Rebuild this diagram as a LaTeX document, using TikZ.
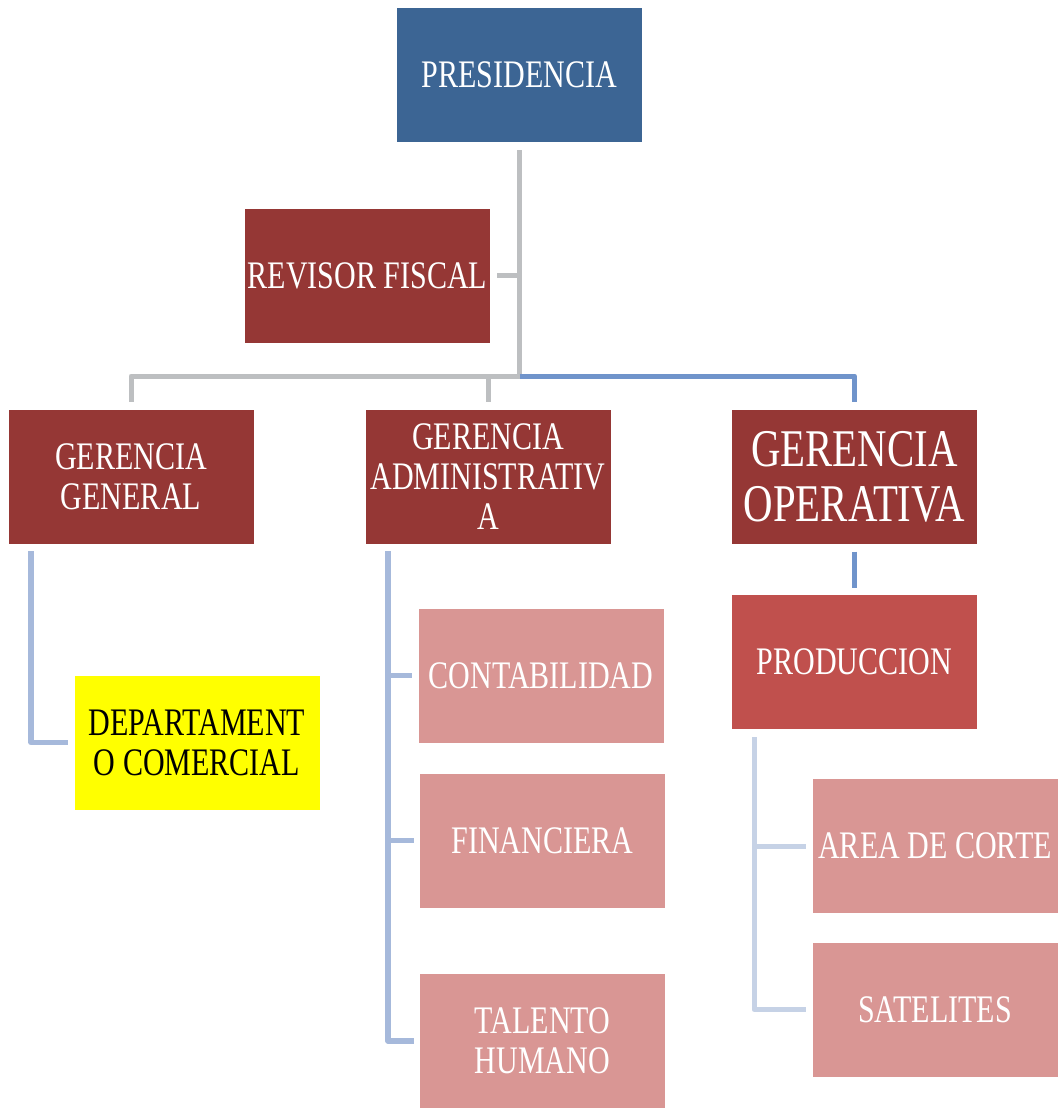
\documentclass[tikz,border=0pt]{standalone}
\usepackage{fontspec}
\setmainfont[FakeStretch=0.77]{Liberation Serif}
\definecolor{presblue}{HTML}{3C6594}
\definecolor{darkred}{HTML}{953735}
\definecolor{midred}{HTML}{C0504D}
\definecolor{lightred}{HTML}{D99694}
\definecolor{yel}{HTML}{FFFF00}
\definecolor{lgray}{HTML}{BDBFC1}
\definecolor{lblue}{HTML}{7094CB}
\definecolor{pblue}{HTML}{A6B9DB}
\definecolor{vpblue}{HTML}{C6D2E6}
\tikzset{
  box/.style={rectangle, inner sep=0pt, minimum width=245pt, minimum height=134pt, align=center,
    text=white, font=\fontsize{39}{40}\selectfont},
  presbox/.style={box, fill=presblue},
  darkbox/.style={box, fill=darkred},
  midbox/.style={box, fill=midred},
  lightbox/.style={box, fill=lightred},
  yelbox/.style={box, fill=yel, text=black},
  bigtext/.style={font=\fontsize{53}{55}\selectfont},
  grayline/.style={draw=lgray, line width=5pt, line join=round},
  blueline/.style={draw=lblue, line width=5pt, line join=round},
  paleline/.style={draw=pblue, line width=5.5pt, line join=round},
  vpaleline/.style={draw=vpblue, line width=5pt, line join=round}
}
\begin{document}
\begin{tikzpicture}[x=1pt,y=-1pt]
\useasboundingbox (0,0) rectangle (1058,1108);
\node[presbox] (pres) at (519.5,75) {PRESIDENCIA};
\node[darkbox] (rev) at (367.5,275.5) {REVISOR FISCAL};
\node[darkbox] (gg) at (131,476.5) {GERENCIA\\GENERAL};
\node[darkbox] (ga) at (488,476.5) {GERENCIA\\ADMINISTRATIV\\A};
\node[darkbox, bigtext] (go) at (854.5,476.5) {GERENCIA\\OPERATIVA};
\node[midbox] (prod) at (854.5,662) {PRODUCCION};
\node[yelbox] (dep) at (197,742.5) {DEPARTAMENT\\O COMERCIAL};
\node[lightbox] (cont) at (541,675.5) {CONTABILIDAD};
\node[lightbox] (fin) at (542.5,840.5) {FINANCIERA};
\node[lightbox] (tal) at (542.5,1041) {TALENTO\\HUMANO};
\node[lightbox] (area) at (935,846) {AREA DE CORTE};
\node[lightbox] (sat) at (935,1009.5) {SATELITES};
% junctions
\coordinate (j0) at (519.5,376);
\coordinate (ggl) at (31,551);
\coordinate (gal) at (388,551);
\coordinate (prl) at (754,737);
% top connectors
\draw[grayline] ([yshift=-8pt]pres.south) -- (j0);
\draw[grayline] ([xshift=7pt]rev.east) -- (rev.east -| j0);
\draw[grayline] (j0) -| ([yshift=7pt]gg.north);
\draw[grayline] (ga.north |- j0) -- ([yshift=7pt]ga.north);
\draw[blueline] (j0) -| ([yshift=7pt]go.north);
\draw[blueline] ([yshift=-8pt]go.south) -- ([yshift=7pt]prod.north);
% gerencia general
\draw[paleline] (ggl) |- ([xshift=-6pt]dep.west);
% administrativa
\draw[paleline] (gal) |- ([xshift=-6pt]tal.west);
\draw[paleline] (cont.west -| gal) -- ([xshift=-6pt]cont.west);
\draw[paleline] (fin.west -| gal) -- ([xshift=-6pt]fin.west);
% produccion
\draw[vpaleline] (prl) |- ([xshift=-6pt]sat.west);
\draw[vpaleline] (area.west -| prl) -- ([xshift=-6pt]area.west);
\end{tikzpicture}
\end{document}
